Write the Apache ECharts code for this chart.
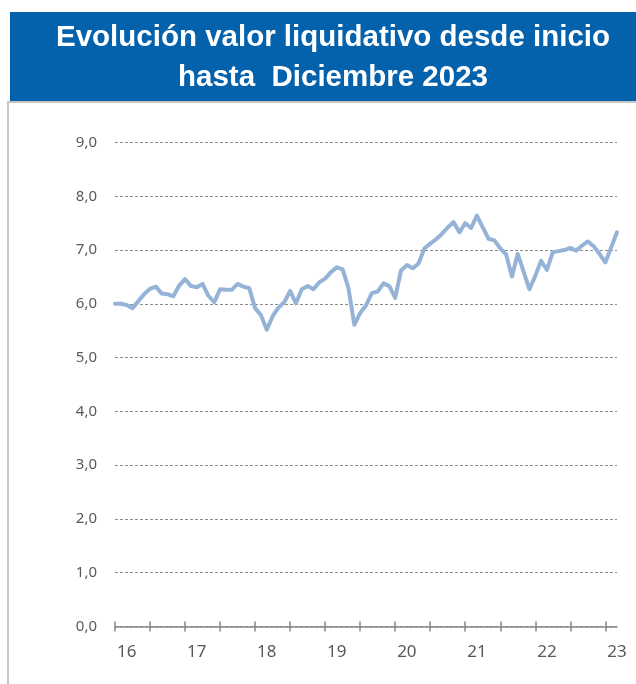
<!DOCTYPE html>
<html>
<head>
    <meta charset="utf-8">
    <title>ECharts</title>
    <script src="https://cdn.jsdelivr.net/npm/echarts@6/dist/echarts.min.js"></script>
    <style type="text/css">
        html, body {
            margin: 0;
            height: 100%;
            background: #ffffff;
        }
    </style>
</head>
<body>
<div id="main" style="width: 636px;height:684px;"></div>
<script type="text/javascript">
    // meses (oct-16 .. dic-23)
    var months = [
        'oct-16', 'nov-16', 'dic-16',
        'ene-17', 'feb-17', 'mar-17', 'abr-17', 'may-17', 'jun-17', 'jul-17', 'ago-17', 'sep-17', 'oct-17', 'nov-17', 'dic-17',
        'ene-18', 'feb-18', 'mar-18', 'abr-18', 'may-18', 'jun-18', 'jul-18', 'ago-18', 'sep-18', 'oct-18', 'nov-18', 'dic-18',
        'ene-19', 'feb-19', 'mar-19', 'abr-19', 'may-19', 'jun-19', 'jul-19', 'ago-19', 'sep-19', 'oct-19', 'nov-19', 'dic-19',
        'ene-20', 'feb-20', 'mar-20', 'abr-20', 'may-20', 'jun-20', 'jul-20', 'ago-20', 'sep-20', 'oct-20', 'nov-20', 'dic-20',
        'ene-21', 'feb-21', 'mar-21', 'abr-21', 'may-21', 'jun-21', 'jul-21', 'ago-21', 'sep-21', 'oct-21', 'nov-21', 'dic-21',
        'ene-22', 'feb-22', 'mar-22', 'abr-22', 'may-22', 'jun-22', 'jul-22', 'ago-22', 'sep-22', 'oct-22', 'nov-22', 'dic-22',
        'ene-23', 'feb-23', 'mar-23', 'abr-23', 'may-23', 'jun-23', 'jul-23', 'ago-23', 'sep-23', 'oct-23', 'nov-23', 'dic-23'
    ];

    // valor liquidativo
    var valores = [
        6.00, 6.00, 5.98,
        5.92, 6.05, 6.18, 6.28, 6.32, 6.19, 6.18, 6.14, 6.34, 6.46, 6.33, 6.31,
        6.37, 6.15, 6.03, 6.27, 6.26, 6.26, 6.37, 6.32, 6.29, 5.92, 5.79, 5.52,
        5.77, 5.93, 6.03, 6.24, 6.01, 6.27, 6.33, 6.27, 6.40, 6.47, 6.59, 6.68,
        6.64, 6.29, 5.61, 5.83, 5.97, 6.20, 6.23, 6.38, 6.33, 6.11, 6.62, 6.72,
        6.66, 6.75, 7.03, 7.12, 7.20, 7.30, 7.42, 7.52, 7.33, 7.50, 7.41, 7.64,
        7.42, 7.21, 7.18, 7.03, 6.92, 6.51, 6.93, 6.60, 6.27, 6.52, 6.80, 6.63,
        6.96, 6.98, 7.00, 7.04, 6.99, 7.08, 7.16, 7.07, 6.93, 6.77, 7.05, 7.33
    ];

    var titulo = ['Evolución valor liquidativo desde inicio', 'hasta  Diciembre 2023'];

    var myChart = echarts.init(document.getElementById('main'), null, {renderer: 'canvas'});

    var gris = '#595959';

    var option = {
        animation: false,
        graphic: [
            {
                type: 'rect',
                shape: {x: 8, y: 102, width: 640, height: 600},
                style: {fill: 'none', stroke: '#c6c6c6', lineWidth: 2},
                silent: true
            },
            {
                type: 'rect',
                shape: {x: 10, y: 12, width: 630, height: 89},
                style: {fill: '#0461ab'},
                silent: true
            },
            {
                type: 'text',
                style: {
                    x: 333, y: 38, text: titulo[0], fill: '#ffffff',
                    textAlign: 'center', textVerticalAlign: 'middle',
                    font: 'bold 29.5px "Liberation Sans", Arial, sans-serif'
                }
            },
            {
                type: 'text',
                style: {
                    x: 333, y: 78, text: titulo[1], fill: '#ffffff',
                    textAlign: 'center', textVerticalAlign: 'middle',
                    font: 'bold 29.5px "Liberation Sans", Arial, sans-serif'
                }
            }
        ],
        grid: {
            left: 115,
            right: 19,
            top: 142.5,
            bottom: 57.5
        },
        xAxis: [
            {
                type: 'category',
                data: months,
                boundaryGap: false,
                axisLine: {lineStyle: {color: '#868686', width: 1.5}},
                axisTick: {
                    interval: function (index) { return index % 6 === 0; },
                    length: 5,
                    lineStyle: {color: '#868686', width: 1.5}
                },
                axisLabel: {
                    interval: function (index) { return index % 12 === 2; },
                    formatter: function (v) { return v.slice(4); },
                    color: gris,
                    fontSize: 17,
                    margin: 17,
                    fontFamily: '"Noto Sans", sans-serif'
                },
                splitLine: {show: false}
            },
            {
                type: 'category',
                data: months,
                boundaryGap: false,
                position: 'bottom',
                axisLine: {show: false},
                axisTick: {
                    inside: true,
                    interval: function (index) { return index % 6 === 0; },
                    length: 5,
                    lineStyle: {color: '#868686', width: 1.5}
                },
                axisLabel: {show: false},
                splitLine: {show: false}
            }
        ],
        yAxis: {
            type: 'value',
            min: 0,
            max: 9,
            interval: 1,
            axisLine: {show: false},
            axisTick: {show: false},
            axisLabel: {
                formatter: function (v) { return v.toFixed(1).replace('.', ','); },
                color: gris,
                fontSize: 15,
                margin: 18,
                fontFamily: '"Noto Sans", sans-serif'
            },
            splitLine: {
                lineStyle: {color: '#8c8c8c', width: 1, type: [3, 2]}
            }
        },
        series: [{
            name: 'Valor liquidativo',
            type: 'line',
            data: valores,
            symbol: 'none',
            smooth: false,
            lineStyle: {color: '#95b3d7', width: 4, join: 'round', cap: 'round'},
            z: 3
        }]
    };

    myChart.setOption(option);

    window.addEventListener("resize", function () {
        myChart.resize();
    });
</script>
</body>
</html>
